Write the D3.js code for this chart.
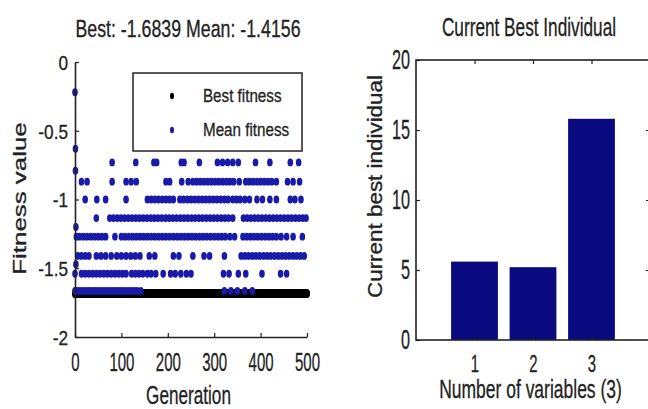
<!DOCTYPE html>
<html>
<head>
<meta charset="utf-8">
<script src="https://cdn.jsdelivr.net/npm/d3@7"></script>
<style>
  html, body { margin: 0; padding: 0; background: #fff; }
  svg { display: block; }
  text { font-family: "Liberation Sans", Arial, sans-serif; fill: #222; stroke: #222; stroke-width: 0.3px; }
</style>
</head>
<body>
<div id="chart"></div>
<script>
// GA run: best / mean fitness per generation, and the current best individual

const bestValue = -1.6839;
const meanValue = -1.4156;
const genTicks = [0, 100, 200, 300, 400, 500];
const fitTicks = [0, -0.5, -1, -1.5, -2];

// mean fitness sits on a few discrete levels; generations
const earlyGens = [0, 1, 1, 2, 2];
const earlyMeans = [-0.22, -0.63, -0.79, -1.2, -1.47];

const meanLevels = [-0.73, -0.87, -1.0, -1.135, -1.27, -1.41, -1.54, -1.665];
const genAtLevel1 = [80, 131, 170, 176, 229, 235, 268, 307, 318, 329, 340, 352, 389, 420, 464, 482];
const genAtLevel2 = [14, 26, 80, 110, 121, 132, 196, 204, 230, 244, 254, 262, 270, 278, 286, 294, 302, 310, 318, 326, 334, 342, 354, 368, 376, 384, 392, 400, 408, 416, 424, 434, 458, 470, 484];
const genAtLevel3 = [22, 47, 66, 110, 156, 164, 172, 180, 188, 196, 204, 212, 226, 234, 242, 250, 258, 266, 274, 282, 290, 298, 306, 314, 322, 330, 340, 348, 356, 366, 376, 392, 404, 420, 434, 464, 474, 487];
const genAtLevel4 = [46, 75, 83, 91, 99, 107, 115, 123, 131, 139, 147, 155, 163, 171, 179, 187, 195, 203, 211, 219, 227, 235, 243, 251, 259, 267, 275, 283, 291, 299, 307, 315, 323, 331, 340, 363, 371, 379, 387, 395, 403, 411, 419, 427, 435, 443, 451, 459, 467, 475, 483, 491, 498];
const genAtLevel5 = [3, 10, 18, 26, 34, 42, 50, 58, 66, 86, 100, 108, 116, 124, 132, 140, 148, 156, 164, 172, 180, 188, 196, 204, 212, 220, 228, 236, 244, 252, 260, 268, 276, 284, 292, 300, 308, 316, 324, 334, 344, 362, 370, 378, 386, 394, 402, 410, 418, 426, 434, 444, 456, 470, 490];
const genAtLevel6 = [6, 14, 22, 30, 46, 56, 66, 78, 90, 100, 110, 120, 130, 140, 160, 172, 212, 224, 254, 278, 290, 322, 358, 366, 374, 382, 390, 398, 406, 414, 422, 430, 438, 446, 454, 462, 470, 478, 486, 494];
const genAtLevel7 = [0, 14, 22, 30, 38, 46, 54, 62, 70, 78, 86, 94, 102, 110, 122, 130, 138, 146, 156, 164, 174, 190, 206, 216, 228, 240, 250, 320, 332, 352, 368, 403, 443, 456];
const genAtLevel8 = [0, 3, 8, 14, 20, 26, 32, 38, 44, 50, 56, 62, 68, 74, 80, 86, 92, 98, 104, 110, 116, 122, 128, 134, 142, 322, 336, 350, 366, 382];

// current best individual
const variables = [1, 2, 3];
const individual = [5.6, 5.2, 15.8];
const barTicks = [0, 5, 10, 15, 20];

const W = 648, H = 409;
const svg = d3.select("#chart").append("svg")
    .attr("width", W)
    .attr("height", H);

// the source picture was squeezed horizontally, so text is scaled in x
function squeeze(sel, sx) {
    sel.each(function () {
        const t = d3.select(this);
        const x = +t.attr("x") || 0;
        t.attr("x", x / sx);
        const prev = t.attr("transform") || "";
        t.attr("transform", (prev + ` scale(${sx},1)`).trim());
    });
}

function styleAxis(g) {
    g.select(".domain").attr("stroke", "#222").attr("stroke-width", 1.6);
    g.selectAll(".tick line").attr("stroke", "#222").attr("stroke-width", 1.2);
}

// ---------- left: fitness plot ----------
const x = d3.scaleLinear().domain([0, 500]).range([75, 307]);
const y = d3.scaleLinear().domain([-2, 0]).range([337, 62]);

const bestData = d3.range(0, 501).map(g => ({ g, v: bestValue }));
const levelGens = [genAtLevel1, genAtLevel2, genAtLevel3, genAtLevel4,
                   genAtLevel5, genAtLevel6, genAtLevel7, genAtLevel8];
const meanData = earlyGens.map((g, i) => ({ g, v: earlyMeans[i] }));
levelGens.forEach((gens, i) => gens.forEach(g => meanData.push({ g, v: meanLevels[i] })));

const left = svg.append("g");

left.append("g")
    .selectAll("ellipse")
    .data(bestData)
    .join("ellipse")
    .attr("cx", d => x(d.g))
    .attr("cy", d => y(d.v))
    .attr("rx", 3)
    .attr("ry", 4.5)
    .attr("fill", "#000");

left.append("g")
    .selectAll("ellipse")
    .data(meanData)
    .join("ellipse")
    .attr("cx", d => x(d.g))
    .attr("cy", d => y(d.v))
    .attr("rx", 2.8)
    .attr("ry", 3.9)
    .attr("fill", "#1a1aaa");

// axes (box off, ticks inward)
const gx = left.append("g")
    .attr("transform", `translate(0,${y(-2)})`)
    .call(d3.axisBottom(x).tickValues(genTicks).tickSize(-4).tickSizeOuter(0)
        .tickFormat(d => String(d)));
styleAxis(gx);
gx.selectAll("text").attr("y", 34).attr("dy", 0).attr("font-size", 25).attr("fill", "#222");
squeeze(gx.selectAll("text"), 0.6);

const gy = left.append("g")
    .attr("transform", `translate(${x(0)},0)`)
    .call(d3.axisLeft(y).tickValues(fitTicks).tickSize(-4).tickSizeOuter(0)
        .tickFormat(d => String(d)));
styleAxis(gy);
gy.selectAll("text").attr("x", -7).attr("dy", "0.35em").attr("font-size", 21).attr("fill", "#222");
squeeze(gy.selectAll("text"), 0.82);

left.append("text")
    .attr("x", 188).attr("y", 37.5)
    .attr("text-anchor", "middle")
    .attr("font-size", 24)
    .text(`Best: ${bestValue} Mean: ${meanValue}`)
    .call(squeeze, 0.74);

left.append("text")
    .attr("x", 188.5).attr("y", 404)
    .attr("text-anchor", "middle")
    .attr("font-size", 26)
    .text("Generation")
    .call(squeeze, 0.66);

left.append("text")
    .attr("transform", "translate(26,198.5) rotate(-90)")
    .attr("text-anchor", "middle")
    .attr("font-size", 18.5)
    .text("Fitness value")
    .call(squeeze, 1.4);

// legend
const legend = left.append("g");
legend.append("rect")
    .attr("x", 133).attr("y", 73)
    .attr("width", 169).attr("height", 78)
    .attr("fill", "#fff")
    .attr("stroke", "#222")
    .attr("stroke-width", 1.5);
const legendItems = [
    { label: "Best fitness", color: "#000", cy: 96, ty: 102 },
    { label: "Mean fitness", color: "#1a1aaa", cy: 130, ty: 136 }
];
legendItems.forEach(item => {
    legend.append("ellipse")
        .attr("cx", 172).attr("cy", item.cy)
        .attr("rx", 2).attr("ry", 3.2)
        .attr("fill", item.color);
    legend.append("text")
        .attr("x", 203).attr("y", item.ty)
        .attr("font-size", 19)
        .text(item.label)
        .call(squeeze, 0.8);
});

// ---------- right: current best individual ----------
const xb = d3.scaleLinear().domain([0, 4]).range([416, 650]);
const yb = d3.scaleLinear().domain([0, 20]).range([340, 60]);
const barW = xb(0.8) - xb(0);

const right = svg.append("g");

right.append("g")
    .selectAll("rect")
    .data(variables)
    .join("rect")
    .attr("x", d => xb(d) - barW / 2)
    .attr("y", (d, i) => yb(individual[i]))
    .attr("width", barW)
    .attr("height", (d, i) => yb(0) - yb(individual[i]))
    .attr("fill", "#0a0a80");

right.append("rect")
    .attr("x", xb(0)).attr("y", yb(20))
    .attr("width", xb(4) - xb(0))
    .attr("height", yb(0) - yb(20))
    .attr("fill", "none")
    .attr("stroke", "#222")
    .attr("stroke-width", 1.6);

const bx = right.append("g")
    .attr("transform", `translate(0,${yb(0)})`)
    .call(d3.axisBottom(xb).tickValues(variables).tickSize(-4).tickSizeOuter(0)
        .tickFormat(d => String(d)));
styleAxis(bx);
bx.select(".domain").remove();
bx.selectAll("text").attr("y", 32).attr("dy", 0).attr("font-size", 24).attr("fill", "#222");
squeeze(bx.selectAll("text"), 0.62);

const bt = right.append("g")
    .attr("transform", `translate(0,${yb(20)})`)
    .call(d3.axisTop(xb).tickValues(variables).tickSize(-4).tickSizeOuter(0).tickFormat(""));
styleAxis(bt);
bt.select(".domain").remove();

const by = right.append("g")
    .attr("transform", `translate(${xb(0)},0)`)
    .call(d3.axisLeft(yb).tickValues(barTicks).tickSize(-4).tickSizeOuter(0)
        .tickFormat(d => String(d)));
styleAxis(by);
by.select(".domain").remove();
by.selectAll("text").attr("x", -6).attr("dy", "0.3em").attr("font-size", 28).attr("fill", "#222");
squeeze(by.selectAll("text"), 0.58);

const br = right.append("g")
    .attr("transform", `translate(${xb(4)},0)`)
    .call(d3.axisRight(yb).tickValues([5, 10, 15]).tickSize(-4).tickSizeOuter(0).tickFormat(""));
styleAxis(br);
br.select(".domain").remove();

right.append("text")
    .attr("x", 529).attr("y", 36)
    .attr("text-anchor", "middle")
    .attr("font-size", 26.5)
    .text("Current Best Individual")
    .call(squeeze, 0.65);

right.append("text")
    .attr("x", 530.5).attr("y", 398)
    .attr("text-anchor", "middle")
    .attr("font-size", 25)
    .text(`Number of variables (${variables.length})`)
    .call(squeeze, 0.7);

right.append("text")
    .attr("transform", "translate(382,186.5) rotate(-90)")
    .attr("text-anchor", "middle")
    .attr("font-size", 19.5)
    .text("Current best individual")
    .call(squeeze, 1.15);
</script>
</body>
</html>
